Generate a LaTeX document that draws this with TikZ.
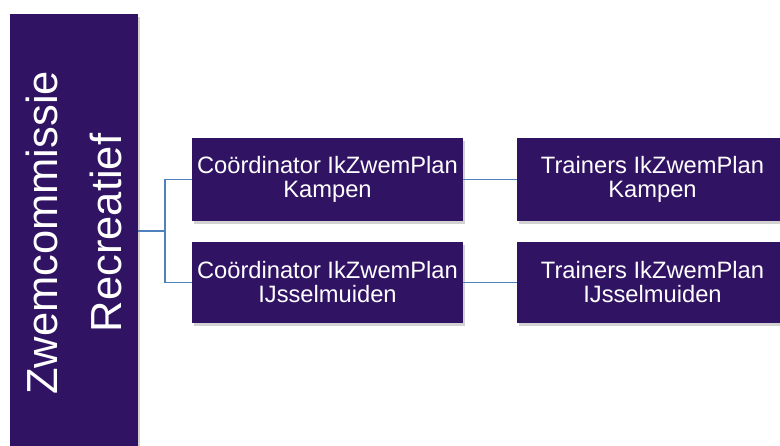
\documentclass[tikz,border=0pt]{standalone}
\usepackage{fontspec}
\setmainfont{Liberation Sans}
\usetikzlibrary{shadows}
\definecolor{boxpurple}{RGB}{49,19,100}
\definecolor{connblue}{RGB}{79,129,189}
\newcommand\mainlabel{\vbox{\halign{\hfil##\hfil\cr Zwemcommissie\cr Recreatief\cr}}}
\tikzset{
  orgbox/.style={fill=boxpurple, draw=none, text=white, inner sep=0pt,
    drop shadow={shadow xshift=1.5pt, shadow yshift=-2.5pt, opacity=0.25, fill=black!70}},
  subbox/.style={orgbox, minimum width=271pt, align=center,
    font=\fontsize{23.7}{24}\selectfont},
  conn/.style={draw=connblue, line width=1.8pt}
}
\begin{document}
\begin{tikzpicture}[x=1pt,y=-1pt]
\useasboundingbox (0,0) rectangle (780,445);
\clip (0,0) rectangle (780,445);
\node[orgbox, minimum width=128pt, minimum height=438pt,
      font=\fontsize{43.5}{64}\selectfont] (main) at (74,233)
      {\rotatebox{90}{\mainlabel}};
\node[subbox, minimum height=83pt] (c1) at (327.5,179.5) {Coördinator IkZwemPlan\\Kampen};
\node[subbox, minimum height=81pt] (c2) at (327.5,282.5) {Coördinator IkZwemPlan\\IJsselmuiden};
\node[subbox, minimum height=83pt] (t1) at (652.5,179.5) {Trainers IkZwemPlan\\Kampen};
\node[subbox, minimum height=81pt] (t2) at (652.5,282.5) {Trainers IkZwemPlan\\IJsselmuiden};
\coordinate (j) at (165,231);
\draw[conn] (main.east |- j) -- (j);
\draw[conn] (j) |- (c1.west);
\draw[conn] (j) |- (c2.west);
\draw[conn] (c1.east) -- (t1.west);
\draw[conn] (c2.east) -- (t2.west);
\end{tikzpicture}
\end{document}
